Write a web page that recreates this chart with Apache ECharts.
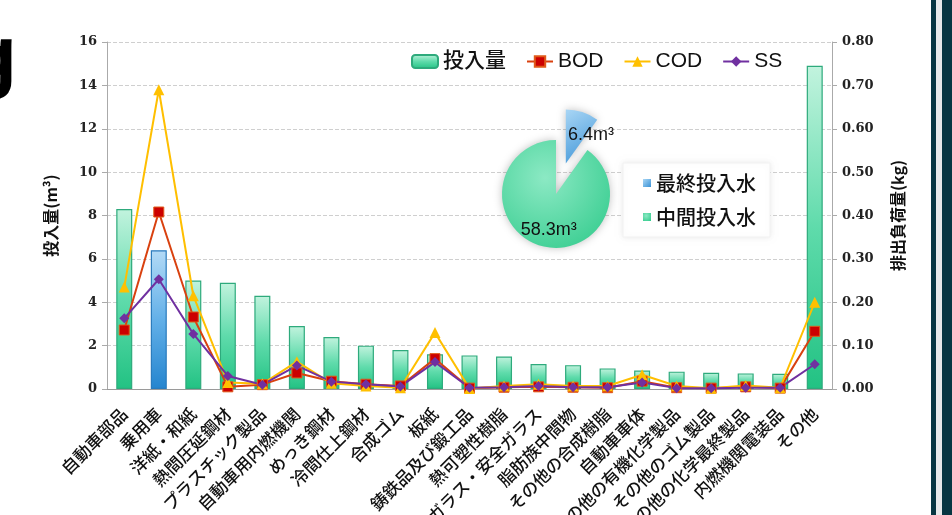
<!DOCTYPE html>
<html><head><meta charset="utf-8">
<script src="https://cdn.jsdelivr.net/npm/echarts@6/dist/echarts.min.js"></script>
<style>html,body{margin:0;padding:0;background:#fff}#c{width:952px;height:515px}</style>
</head><body><div id="c"></div>
<script>
const categories = ['自動車部品','乗用車','洋紙・和紙','熱間圧延鋼材','プラスチック製品','自動車用内燃機関','めっき鋼材','冷間仕上鋼材','合成ゴム','板紙','鋳鉄品及び鍛工品','熱可塑性樹脂','板ガラス・安全ガラス','脂肪族中間物','その他の合成樹脂','自動車車体','その他の有機化学製品','その他のゴム製品','その他の化学最終製品','内燃機関電装品','その他'];
const inputVolume = [8.3,6.4,5.0,4.9,4.3,2.9,2.4,2.0,1.8,1.6,1.55,1.5,1.15,1.1,0.95,0.85,0.8,0.75,0.72,0.7,14.9];
const bod = [0.136,0.408,0.166,0.005,0.010,0.037,0.018,0.011,0.007,0.070,0.002,0.004,0.005,0.004,0.003,0.018,0.003,0.002,0.005,0.002,0.133];
const cod = [0.235,0.690,0.215,0.015,0.012,0.063,0.013,0.007,0.003,0.130,0.001,0.007,0.011,0.007,0.007,0.033,0.007,0.002,0.008,0.003,0.200];
const ss  = [0.163,0.253,0.127,0.030,0.010,0.054,0.017,0.011,0.006,0.062,0.003,0.004,0.007,0.004,0.004,0.015,0.002,0.002,0.003,0.003,0.057];
const leftTicks = {min:0,max:16,interval:2};
const rightTicks = {min:0,max:0.8,interval:0.1};
const pieNames = ['最終投入水','中間投入水'];
const pieValues = [6.4,58.3];
const pieLabels = ['6.4m³','58.3m³'];
const finalIndex = 1; // 乗用車 = 最終投入水

const G = echarts.graphic;
const greenGrad = new G.LinearGradient(0,0,0,1,[{offset:0,color:'#c2f3de'},{offset:0.5,color:'#5fdbab'},{offset:1,color:'#22c283'}]);
const blueGrad = new G.LinearGradient(0,0,0,1,[{offset:0,color:'#b3daf6'},{offset:0.5,color:'#63b0e8'},{offset:1,color:'#2585cf'}]);
const serifLbl = {fontFamily:'DejaVu Serif',fontWeight:'bold',fontSize:13,color:'#222'};
const cjk = '"Noto Sans CJK JP", "Noto Sans", sans-serif';
const latinCjk = '"Liberation Sans", "Noto Sans CJK JP", sans-serif';

const chart = echarts.init(document.getElementById('c'));
chart.setOption({
  animation:false,
  backgroundColor:'#fff',
  graphic:[
    {type:'text',left:-33,top:19,style:{text:'g',font:'bold 82px "Liberation Sans"',fill:'#000'}},
    {type:'rect',shape:{x:931,y:0,width:5,height:515},style:{fill:'#073642'}},
    {type:'rect',shape:{x:936,y:0,width:6,height:515},style:{fill:'#e6e9ea'}},
    {type:'rect',shape:{x:942,y:0,width:10,height:515},style:{fill:'#073642'}}
  ],
  grid:{left:107,right:120,top:42,bottom:126,containLabel:false,outerBoundsMode:'none'},
  legend:[
    {data:['投入量','BOD','COD','SS'],left:406,top:46,itemGap:20,itemWidth:26,itemHeight:13,
     textStyle:{fontSize:21,fontFamily:latinCjk,fontWeight:500,color:'#111'}},
    {data:pieNames,orient:'vertical',left:623,top:163,itemGap:14,itemWidth:8,itemHeight:8,
     icon:'rect',padding:[10,14,10,20],backgroundColor:'#fff',borderColor:'#f2f2f2',borderWidth:1,
     shadowColor:'rgba(0,0,0,0.08)',shadowBlur:6,
     textStyle:{fontSize:20,fontFamily:cjk,fontWeight:500,color:'#111'}}
  ],
  xAxis:{type:'category',data:categories,
    axisLine:{lineStyle:{color:'#9a9a9a'}},
    axisTick:{length:5,lineStyle:{color:'#9a9a9a'}},
    axisLabel:{rotate:45,interval:0,fontSize:17,fontFamily:cjk,fontWeight:500,color:'#111',margin:22}},
  yAxis:[
    {type:'value',min:leftTicks.min,max:leftTicks.max,interval:leftTicks.interval,
     name:'投入量(m³)',nameLocation:'middle',nameGap:48,nameRotate:90,
     nameTextStyle:{fontSize:16,fontWeight:'bold',fontFamily:cjk,color:'#111'},
     axisLine:{show:true,lineStyle:{color:'#aaa'}},axisTick:{show:true,length:5,lineStyle:{color:'#aaa'}},
     axisLabel:Object.assign({margin:10},serifLbl),
     splitLine:{lineStyle:{type:'dashed',color:'#cfcfcf'}}},
    {type:'value',min:rightTicks.min,max:rightTicks.max,interval:rightTicks.interval,
     name:'排出負荷量(kg)',nameLocation:'middle',nameGap:58,nameRotate:90,
     nameTextStyle:{fontSize:16,fontWeight:'bold',fontFamily:cjk,color:'#111'},
     axisLine:{show:true,lineStyle:{color:'#aaa'}},axisTick:{show:true,length:5,lineStyle:{color:'#aaa'}},
     axisLabel:Object.assign({margin:10,formatter:v=>v.toFixed(2)},serifLbl),
     splitLine:{show:false}}
  ],
  series:[
    {name:'投入量',type:'bar',yAxisIndex:0,barWidth:16,
     itemStyle:{color:greenGrad,borderColor:'#2eaa7c',borderWidth:1.2},
     data:inputVolume.map((v,i)=>i===finalIndex?{value:v,itemStyle:{color:blueGrad,borderColor:'#2a7bbd'}}:v)},
    {name:'BOD',type:'line',yAxisIndex:1,data:bod,symbol:'rect',symbolSize:10,
     lineStyle:{color:'#d9410f',width:2},itemStyle:{color:'#cc0000',borderColor:'#e05a1a',borderWidth:1}},
    {name:'COD',type:'line',yAxisIndex:1,data:cod,symbol:'triangle',symbolSize:11,
     lineStyle:{color:'#ffbf00',width:2},itemStyle:{color:'#ffc000'}},
    {name:'SS',type:'line',yAxisIndex:1,data:ss,symbol:'diamond',symbolSize:10,
     lineStyle:{color:'#7030a0',width:2},itemStyle:{color:'#7030a0'}},
    {name:'pie',type:'pie',center:[556,194],radius:54,startAngle:90,clockwise:true,
     selectedMode:'single',selectedOffset:32,
     label:{position:'inside',fontSize:18,fontFamily:'"Liberation Sans", Arial, sans-serif',color:'#111',
            formatter:p=>pieLabels[p.dataIndex]},
     itemStyle:{shadowColor:'rgba(0,0,0,0.25)',shadowBlur:8},
     data:[
       {name:pieNames[0],value:pieValues[0],selected:true,
        itemStyle:{color:new G.LinearGradient(0,0,1,1,[{offset:0,color:'#a9d6f5'},{offset:1,color:'#3a92d6'}])},
        label:{padding:[0,0,0,32]}},
       {name:pieNames[1],value:pieValues[1],
        itemStyle:{color:new G.RadialGradient(0.4,0.35,0.8,[{offset:0,color:'#8ce9c4'},{offset:1,color:'#35cc8e'}])},
        label:{offset:[2,7]}}
     ]}
  ]
});
</script></body></html>
